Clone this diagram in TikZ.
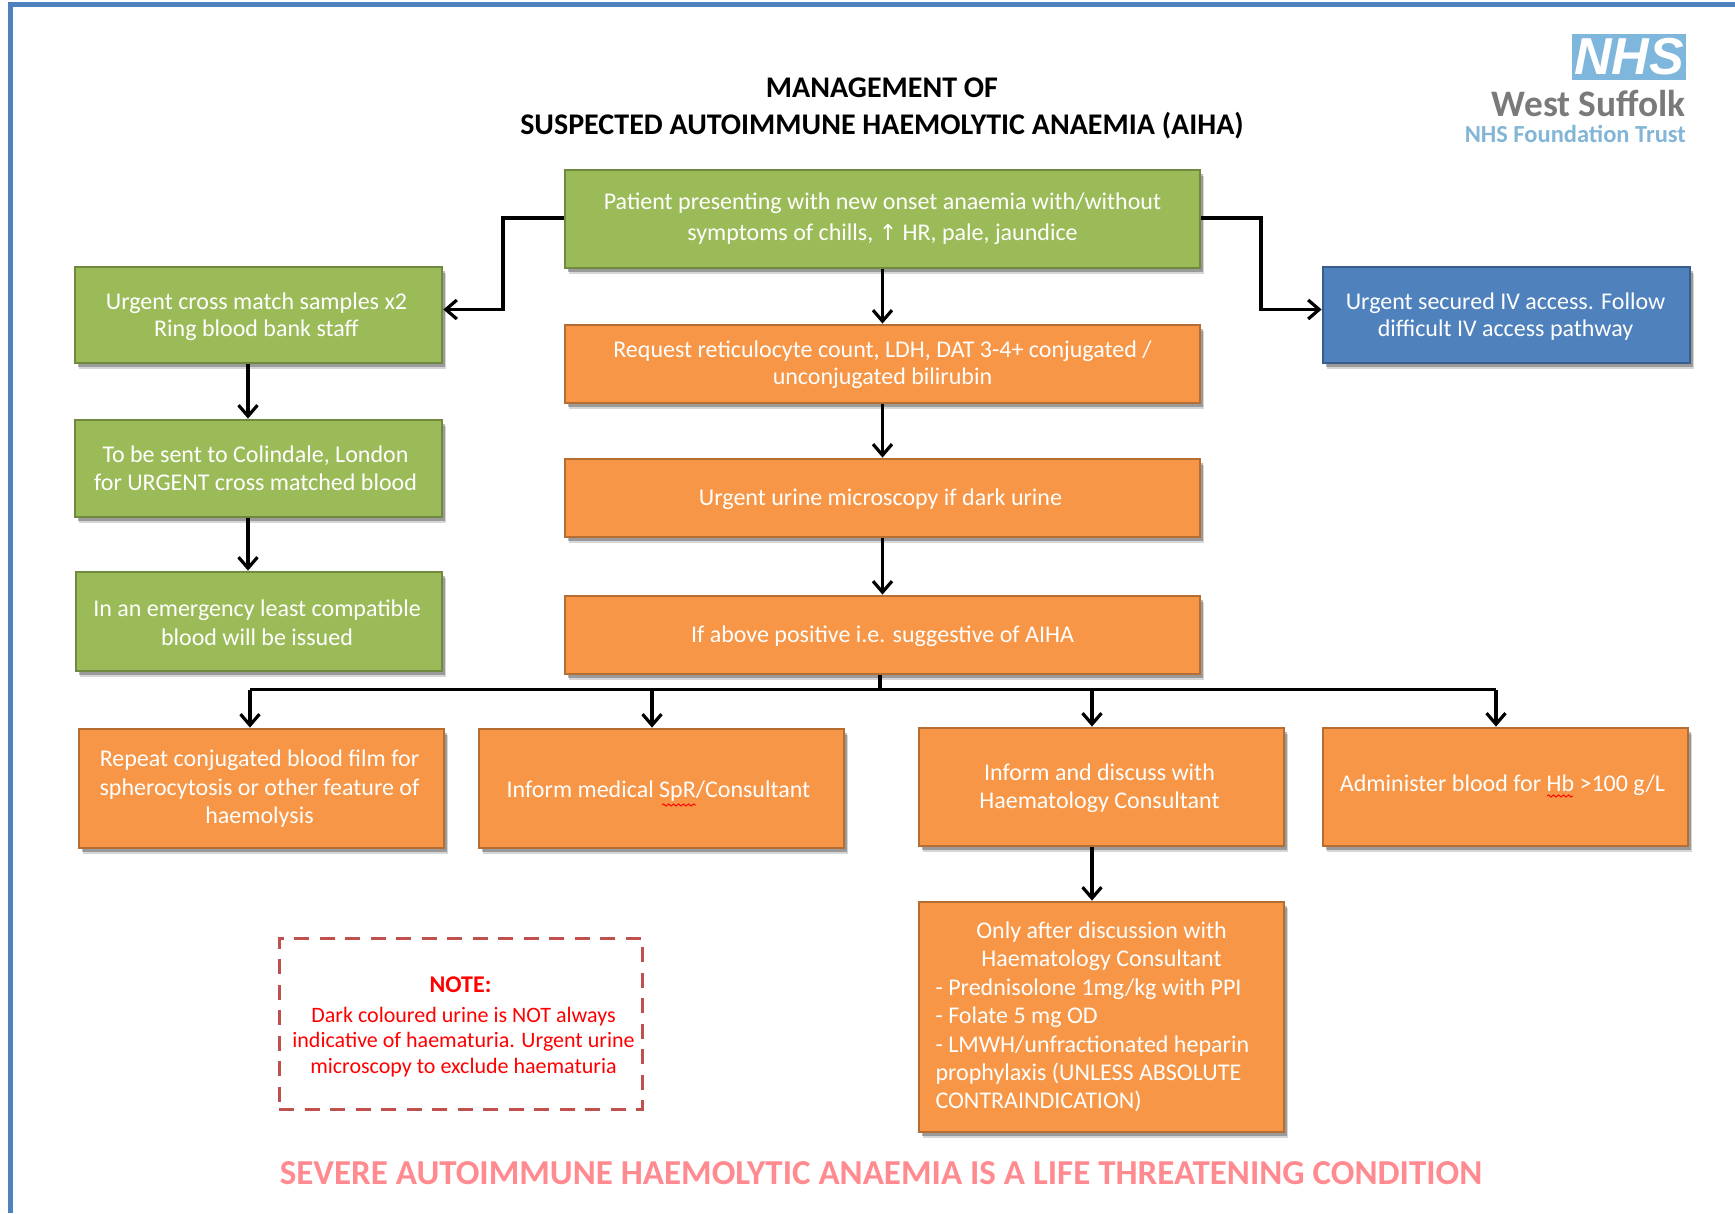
\documentclass[tikz,border=0pt]{standalone}
\usepackage{fontspec}
\setmainfont{Carlito}
\newfontfamily\symfont{DejaVu Sans}
\newfontfamily\logofont{Liberation Sans}
\usetikzlibrary{arrows.meta,shadows,decorations.pathmorphing}
\definecolor{framecol}{HTML}{4F81BD}
\definecolor{greenfill}{HTML}{9BBB59}
\definecolor{greenline}{HTML}{71893F}
\definecolor{orangefill}{HTML}{F79646}
\definecolor{orangeline}{HTML}{B66D31}
\definecolor{bluefill}{HTML}{4F81BD}
\definecolor{blueline}{HTML}{385D8A}
\definecolor{noteline}{HTML}{C0504D}
\definecolor{pinktext}{HTML}{FF8A8F}
\definecolor{logoblue}{HTML}{7FB6DC}
\definecolor{logotext}{HTML}{82B5D6}
\definecolor{logogray}{HTML}{7A7A7A}
\tikzset{
  boxbase/.style={rectangle,line width=2.8pt,text=white,font=\fontsize{24}{27}\selectfont,inner sep=0pt,
    drop shadow={shadow xshift=4pt,shadow yshift=-6pt,fill=black,opacity=.16},
    drop shadow={shadow xshift=2.5pt,shadow yshift=-3.5pt,fill=black,opacity=.28}},
  greenbox/.style={boxbase,fill=greenfill,draw=greenline},
  orangebox/.style={boxbase,fill=orangefill,draw=orangeline},
  bluebox/.style={boxbase,fill=bluefill,draw=blueline},
  notebox/.style={rectangle,draw=noteline,line width=3pt,dash pattern=on 15pt off 10.5pt,inner sep=0pt,text=red,font=\fontsize{22}{25.5}\selectfont},
  link/.style={draw=black,line width=3.2pt},
  arrowlink/.style={link,-{Straight Barb[length=11pt,width=19pt,line width=3.2pt]}},
  titletext/.style={font=\fontsize{30}{37}\selectfont\bfseries,align=center,text=black,inner sep=0pt},
  wavy/.style={draw=red,line width=.9pt,decorate,decoration={snake,amplitude=1.1pt,segment length=5pt}}
}
% \pad{right shift}{down shift}{leading}{lines}: moves a centred block inside its node
\newcommand{\pad}[4]{\vbox{\vskip2\dimexpr#2\relax\hbox{\fontsize{24}{#3}\selectfont\begin{tabular}{@{}c@{}}#4\end{tabular}\hskip-2\dimexpr#1\relax}}}
% \bx{name}{style}{x1}{y1}{x2}{y2}{text}
\newcommand{\bx}[7]{%
  \pgfmathsetmacro{\bxcx}{(#3+#5)/2}\pgfmathsetmacro{\bxcy}{(#4+#6)/2}%
  \pgfmathsetmacro{\bxw}{#5-#3}\pgfmathsetmacro{\bxh}{#6-#4}%
  \node[#2,minimum width=\bxw pt,minimum height=\bxh pt] (#1) at (\bxcx,\bxcy) {#7};}
\begin{document}
\begin{tikzpicture}[x=1pt,y=-1pt]
\useasboundingbox (0,0) rectangle (1735,1213);
% page frame
\draw[framecol,line width=5pt] (10.5,1213) -- (10.5,4.5) -- (1735,4.5);
% title
\node[titletext] (title) at (882,108.5) {MANAGEMENT OF\\SUSPECTED AUTOIMMUNE HAEMOLYTIC ANAEMIA (AIHA)};
% logo
\node[fill=logoblue,text=white,inner sep=0pt,minimum width=114pt,minimum height=46pt,font=\logofont\fontsize{52}{52}\selectfont\bfseries\itshape] (nhs) at (1629,56.5) {NHS};
\node[anchor=east,inner sep=0pt,text=logogray,font=\fontsize{37.4}{37.4}\selectfont\bfseries] (ws) at (1686,103) {West Suffolk};
\node[anchor=east,inner sep=0pt,text=logotext,font=\fontsize{24.5}{24.5}\selectfont\bfseries] (ft) at (1686,134) {NHS Foundation Trust};
% boxes
\bx{main}{greenbox}{565}{170}{1200}{268}{\pad{0pt}{0pt}{31}{Patient presenting with new onset anaemia with/without\\symptoms of chills, {\symfont\fontsize{22}{27}\selectfont↑} HR, pale, jaundice}}
\bx{req}{orangebox}{565}{325}{1200}{403}{\pad{0pt}{1.5pt}{27.5}{Request reticulocyte count, LDH, DAT 3-4+ conjugated /\\unconjugated bilirubin}}
\bx{urine}{orangebox}{565}{459}{1200}{537}{\pad{-2pt}{2pt}{27}{Urgent urine microscopy if dark urine}}
\bx{above}{orangebox}{565}{596}{1200}{674}{\pad{0pt}{2pt}{27}{If above positive i.e. suggestive of AIHA}}
\bx{gone}{greenbox}{75}{267}{442}{363}{\pad{-2pt}{2.5pt}{26.5}{Urgent cross match samples x2\\Ring blood bank staff}}
\bx{gtwo}{greenbox}{75}{420}{442}{517}{\pad{-3pt}{2.5pt}{27.5}{To be sent to Colindale, London\\for URGENT cross matched blood}}
\bx{gthree}{greenbox}{76}{572}{442}{671}{\pad{-2pt}{3.5pt}{29.5}{In an emergency least compatible\\blood will be issued}}
\bx{iv}{bluebox}{1323}{267}{1690}{363}{\pad{-1pt}{2.5pt}{26.5}{Urgent secured IV access. Follow\\difficult IV access pathway}}
\bx{film}{orangebox}{79}{729}{444}{848}{\pad{-2pt}{1pt}{28.5}{Repeat conjugated blood film for\\spherocytosis or other feature of\\haemolysis}}
\bx{spr}{orangebox}{479}{729}{844}{848}{\pad{-3pt}{4pt}{27}{Inform medical SpR/Consultant}}
\bx{haem}{orangebox}{919}{728}{1284}{846}{\pad{-2pt}{2pt}{27.5}{Inform and discuss with\\Haematology Consultant}}
\bx{hb}{orangebox}{1323}{728}{1688}{846}{\pad{-3pt}{-1pt}{27}{Administer blood for Hb >100 g/L}}
\bx{only}{orangebox,font=\fontsize{24}{28.4}\selectfont,text width=332pt,align=flush left}{919}{902}{1284}{1132}{\makebox[\linewidth]{Only after discussion with}\\\makebox[\linewidth]{Haematology Consultant}\\- Prednisolone 1mg/kg with PPI\\- Folate 5 mg OD\\- LMWH/unfractionated heparin\\prophylaxis (UNLESS ABSOLUTE\\CONTRAINDICATION)}
\bx{note}{notebox}{279}{938}{642}{1109}{\vbox{\vskip8pt\hbox{\begin{tabular}{@{}c@{}}\hspace*{-6pt}{\bfseries\fontsize{24}{30}\selectfont NOTE:}\\[4.5pt]Dark coloured urine is NOT always\\indicative of haematuria. Urgent urine\\microscopy to exclude haematuria\end{tabular}\hskip-6pt}}}
\node[inner sep=0pt,text=pinktext,font=\fontsize{35}{35}\selectfont\bfseries] (warn) at (881,1173) {SEVERE AUTOIMMUNE HAEMOLYTIC ANAEMIA IS A LIFE THREATENING CONDITION};
% spell-check squiggles
\draw[wavy] (662,805) -- (696,805);
\draw[wavy] (1547,796) -- (1573,796);
% routing coordinates
\coordinate (leftx) at (248,0);
\coordinate (elbowl) at (503,0);
\coordinate (elbowr) at (1261,0);
\coordinate (rowy) at (0,218);
\coordinate (gy) at (0,309.5);
\coordinate (bus) at (0,689.5);
\coordinate (stem) at (880,0);
\coordinate (dropa) at (250,0);
\coordinate (dropb) at (652,0);
\coordinate (dropc) at (1092,0);
\coordinate (dropd) at (1496,0);
% connectors
\draw[arrowlink] (main.west |- rowy) -- (elbowl |- rowy) -- (elbowl |- gy) -- (gone.east |- gy);
\draw[arrowlink] (main.east |- rowy) -- (elbowr |- rowy) -- (elbowr |- gy) -- (iv.west |- gy);
\draw[arrowlink] (main) -- (req);
\draw[arrowlink] (req) -- (urine);
\draw[arrowlink] (urine) -- (above);
\draw[arrowlink] (gone.south -| leftx) -- (gtwo.north -| leftx);
\draw[arrowlink] (gtwo.south -| leftx) -- (gthree.north -| leftx);
\draw[link] (above.south -| stem) -- (bus -| stem);
\draw[arrowlink] (bus -| dropa) -- (film.north -| dropa);
\draw[link] (bus -| dropa) -- (bus -| dropd);
\draw[arrowlink] (bus -| dropb) -- (spr.north -| dropb);
\draw[arrowlink] (bus -| dropc) -- (haem.north -| dropc);
\draw[arrowlink] (bus -| dropd) -- (hb.north -| dropd);
\draw[arrowlink] (haem.south -| dropc) -- (only.north -| dropc);
\end{tikzpicture}
\end{document}
